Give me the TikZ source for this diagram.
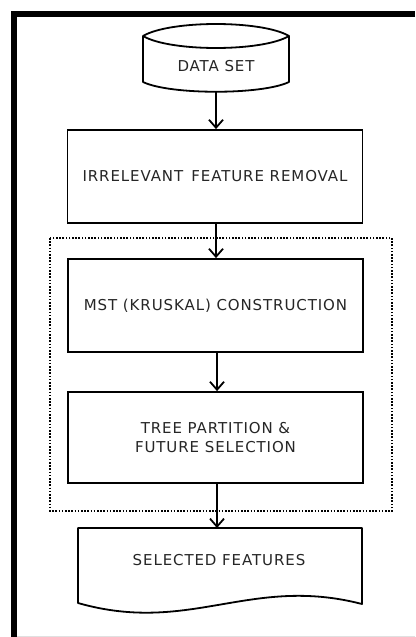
\documentclass[tikz,border=0pt]{standalone}
\usepackage{fontspec}
\newfontfamily\labelfont{DejaVu Sans}[LetterSpace=6]
\usetikzlibrary{arrows.meta}
\begin{document}
\begin{tikzpicture}[x=1pt,y=-1pt,
  lbl/.style={font=\labelfont\fontsize{15}{19.5}\selectfont,text=black!85,align=center},
  box/.style={lbl,draw=black,line width=1.8pt,minimum width=295pt,minimum height=93pt,inner sep=0pt},
  shapeline/.style={draw=black,line width=1.8pt,line join=round},
  arr/.style={-{Straight Barb[length=8pt,width=14pt]},line width=1.8pt},
  grouping/.style={line width=1.8pt,dash pattern=on 1.6pt off 1.6pt}
]
\useasboundingbox (0,0) rectangle (415,637);
\fill[white] (0,0) rectangle (415,637);
% outer frame
\draw[line width=5.5pt] (415,14) -- (14,14) -- (14,637);
\draw[black!12,line width=1pt] (17,636) -- (415,636);

% data set (stored data)
\draw[shapeline] (143,36) .. controls (170,20) and (262,20) .. (289,36)
  -- (289,82) .. controls (262,95) and (170,95) .. (143,82) -- cycle;
\draw[shapeline] (143,36) .. controls (170,52) and (262,52) .. (289,36);
\node[lbl] (ds) at (216,66) {DATA SET};
\coordinate (dsb) at (216,92);

% process boxes
\node[box] (irr) at (215,176.5) {IRRELEVANT\, FEATURE REMOVAL};
\node[box] (mst) at (215.5,305.5) {MST (KRUSKAL) CONSTRUCTION};
\node[box,minimum height=91pt] (tree) at (215.5,437.5) {TREE PARTITION \&\\FUTURE SELECTION};

% dotted grouping
\draw[grouping] (50,238) rectangle (392,511);

% selected features (document)
\draw[shapeline] (78,528) -- (362,528) -- (362,604)
  .. controls (250,575) and (190,635) .. (78,603) -- cycle;
\node[lbl] (sf) at (219,560) {SELECTED FEATURES};
\coordinate (sft) at (217,528);

% connectors
\draw[arr] (dsb) -- (dsb |- irr.north);
\draw[arr] (dsb |- irr.south) -- (dsb |- mst.north);
\draw[arr] (217,0 |- mst.south) -- (217,0 |- tree.north);
\draw[arr] (sft |- tree.south) -- (sft);
\end{tikzpicture}
\end{document}
